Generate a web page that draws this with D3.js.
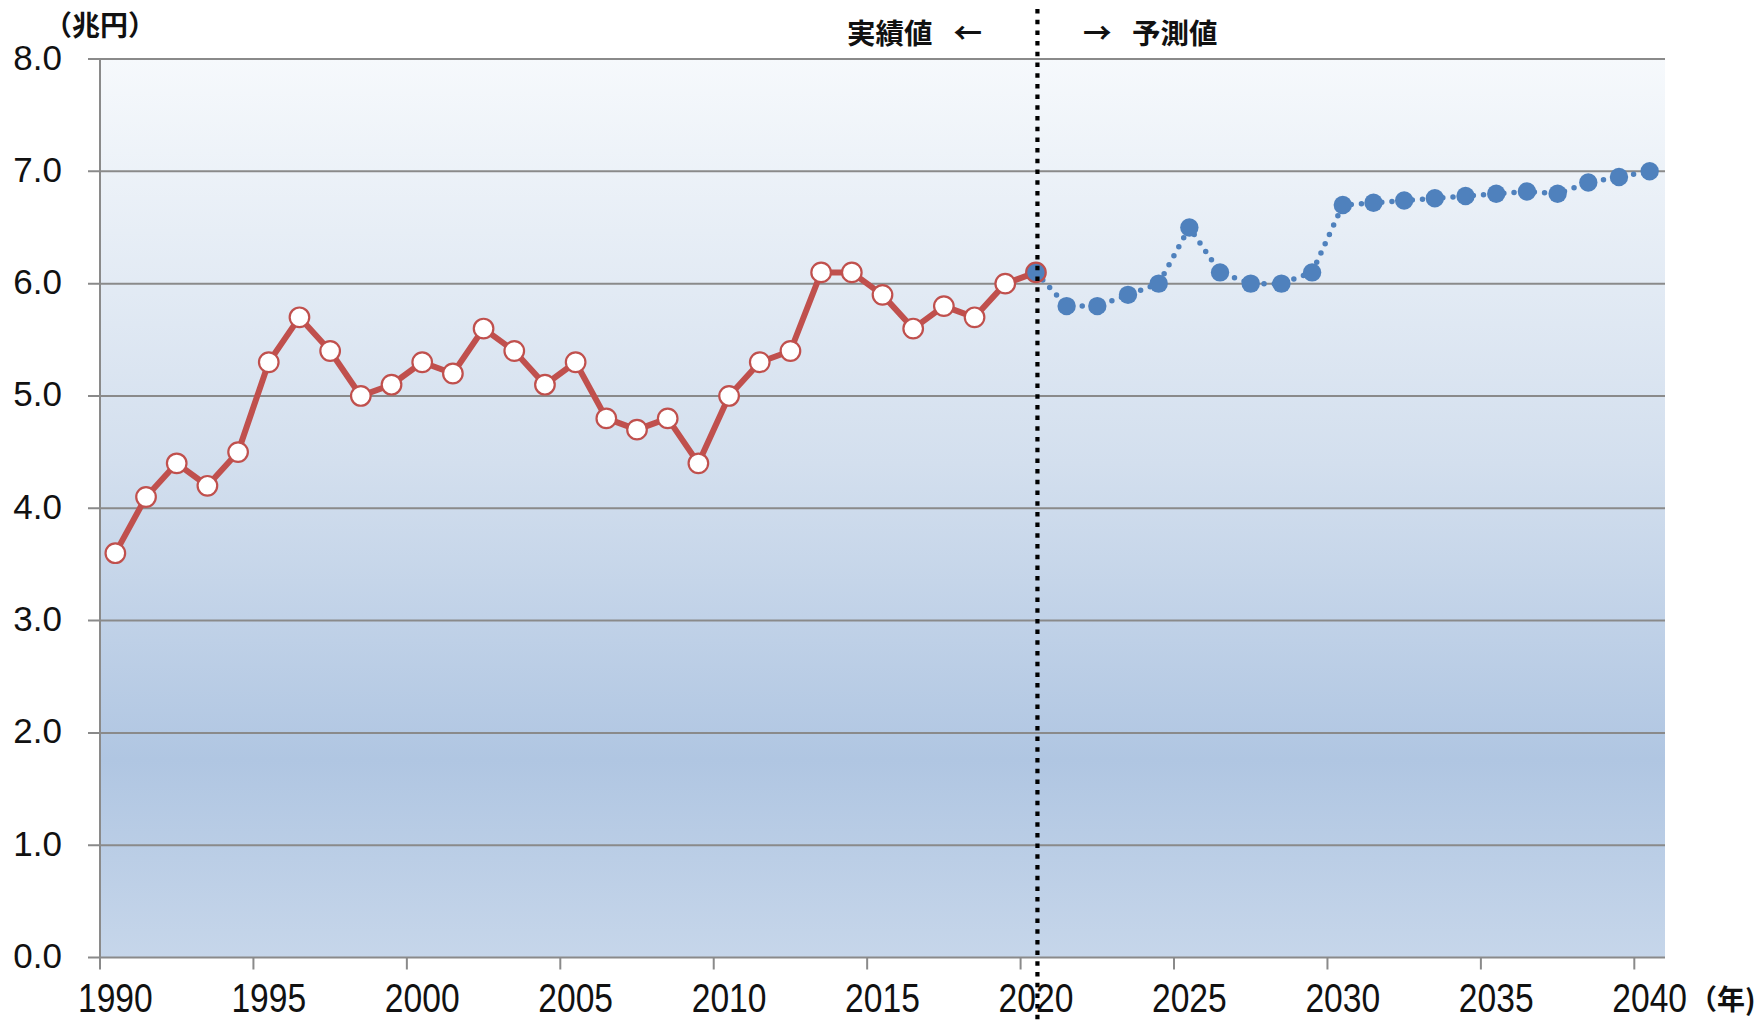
<!DOCTYPE html>
<html>
<head>
<meta charset="utf-8">
<script src="https://cdn.jsdelivr.net/npm/d3@7"></script>
<style>
  html, body { margin: 0; padding: 0; background: #fff; }
  svg { display: block; }
</style>
</head>
<body>
<svg id="svg-canvas" width="1758" height="1024"></svg>
<script>
// Years and values (trillion yen)
const actualYears = [1990, 1991, 1992, 1993, 1994, 1995, 1996, 1997, 1998, 1999,
  2000, 2001, 2002, 2003, 2004, 2005, 2006, 2007, 2008, 2009,
  2010, 2011, 2012, 2013, 2014, 2015, 2016, 2017, 2018, 2019, 2020];
const actualValues = [3.6, 4.1, 4.4, 4.2, 4.5, 5.3, 5.7, 5.4, 5.0, 5.1,
  5.3, 5.2, 5.6, 5.4, 5.1, 5.3, 4.8, 4.7, 4.8, 4.4,
  5.0, 5.3, 5.4, 6.1, 6.1, 5.9, 5.6, 5.8, 5.7, 6.0, 6.1];

const forecastYears = [2020, 2021, 2022, 2023, 2024, 2025, 2026, 2027, 2028, 2029, 2030,
  2031, 2032, 2033, 2034, 2035, 2036, 2037, 2038, 2039, 2040];
const forecastValues = [6.1, 5.8, 5.8, 5.9, 6.0, 6.5, 6.1, 6.0, 6.0, 6.1, 6.7,
  6.72, 6.74, 6.76, 6.78, 6.8, 6.82, 6.8, 6.9, 6.95, 7.0];

const xTicks = [1990, 1995, 2000, 2005, 2010, 2015, 2020, 2025, 2030, 2035, 2040];
const yTicks = [0, 1, 2, 3, 4, 5, 6, 7, 8];
const splitYear = 2020;

const actual = actualYears.map((y, i) => ({ year: y, value: actualValues[i] }));
const forecast = forecastYears.map((y, i) => ({ year: y, value: forecastValues[i] }));

const svg = d3.select('#svg-canvas');

const plotLeft = 100, plotRight = 1665, plotTop = 59, plotBottom = 957.5;

// category axis: each year sits in the middle of its slot
const x = d3.scaleLinear().domain([1990, 2041]).range([plotLeft, plotRight]);
const y = d3.scaleLinear().domain([0, 8]).range([plotBottom, plotTop]);
const px = d => x(d.year + 0.5);
const py = d => y(d.value);

const red = '#c0504d';
const blue = '#4f81bd';
const grid = '#8a8a8a';
const numFont = '"Liberation Sans", Arial, sans-serif';
const jpFont = '"Noto Sans CJK JP", "Noto Sans", sans-serif';

// Background gradient
const defs = svg.append('defs');
const grad = defs.append('linearGradient')
  .attr('id', 'bg')
  .attr('x1', 0).attr('y1', 0)
  .attr('x2', 0).attr('y2', 1);
grad.append('stop').attr('offset', '0%').attr('stop-color', '#f6f9fc');
grad.append('stop').attr('offset', '45%').attr('stop-color', '#d3dfee');
grad.append('stop').attr('offset', '78%').attr('stop-color', '#b0c6e2');
grad.append('stop').attr('offset', '100%').attr('stop-color', '#c6d6ea');

svg.append('rect')
  .attr('x', plotLeft)
  .attr('y', plotTop)
  .attr('width', plotRight - plotLeft)
  .attr('height', plotBottom - plotTop)
  .attr('fill', 'url(#bg)');

// Gridlines + y tick marks
svg.selectAll('line.grid')
  .data(yTicks)
  .enter()
  .append('line')
  .attr('class', 'grid')
  .attr('x1', plotLeft - 12)
  .attr('x2', plotRight)
  .attr('y1', d => y(d))
  .attr('y2', d => y(d))
  .attr('stroke', grid)
  .attr('stroke-width', 2);

// Left axis
svg.append('line')
  .attr('x1', plotLeft).attr('x2', plotLeft)
  .attr('y1', plotTop).attr('y2', plotBottom)
  .attr('stroke', grid)
  .attr('stroke-width', 2);

// x tick marks
svg.selectAll('line.xtick')
  .data(xTicks)
  .enter()
  .append('line')
  .attr('class', 'xtick')
  .attr('x1', d => x(d))
  .attr('x2', d => x(d))
  .attr('y1', plotBottom)
  .attr('y2', plotBottom + 12)
  .attr('stroke', grid)
  .attr('stroke-width', 2);

// y labels
svg.selectAll('text.ylab')
  .data(yTicks)
  .enter()
  .append('text')
  .attr('class', 'ylab')
  .attr('x', 62)
  .attr('y', d => y(d))
  .attr('dy', '0.3em')
  .attr('text-anchor', 'end')
  .attr('font-family', numFont)
  .attr('font-size', 35)
  .attr('fill', '#111')
  .text(d => d.toFixed(1));

// x labels (narrow digits, centred in the year slot)
svg.selectAll('text.xlab')
  .data(xTicks)
  .enter()
  .append('text')
  .attr('class', 'xlab')
  .attr('transform', d => `translate(${x(d + 0.5)},1012) scale(0.82,1)`)
  .attr('text-anchor', 'middle')
  .attr('font-family', numFont)
  .attr('font-size', 41)
  .attr('fill', '#111')
  .text(d => d);

// Actual series
const line = d3.line().x(px).y(py);

svg.append('path')
  .datum(actual)
  .attr('d', line)
  .attr('fill', 'none')
  .attr('stroke', red)
  .attr('stroke-width', 6)
  .attr('stroke-linejoin', 'round');

svg.selectAll('circle.actual')
  .data(actual.filter(d => d.year !== splitYear))
  .enter()
  .append('circle')
  .attr('class', 'actual')
  .attr('cx', px)
  .attr('cy', py)
  .attr('r', 9.8)
  .attr('fill', '#fff')
  .attr('stroke', red)
  .attr('stroke-width', 2.2);

// Forecast series (dotted)
svg.append('path')
  .datum(forecast)
  .attr('d', line)
  .attr('fill', 'none')
  .attr('stroke', blue)
  .attr('stroke-width', 5.5)
  .attr('stroke-linecap', 'round')
  .attr('stroke-dasharray', '0,10.2');

svg.selectAll('circle.forecast')
  .data(forecast)
  .enter()
  .append('circle')
  .attr('class', 'forecast')
  .attr('cx', px)
  .attr('cy', py)
  .attr('r', d => d.year === splitYear ? 9.8 : 9.2)
  .attr('fill', blue)
  .attr('stroke', d => d.year === splitYear ? red : 'none')
  .attr('stroke-width', 2.2);

// Split line
svg.append('line')
  .attr('x1', x(splitYear + 0.5) + 1.5)
  .attr('x2', x(splitYear + 0.5) + 1.5)
  .attr('y1', 9)
  .attr('y2', 1024)
  .attr('stroke', '#000')
  .attr('stroke-width', 4.2)
  .attr('stroke-dasharray', '4.5,6.2');

// Titles
svg.append('text')
  .attr('x', 100).attr('y', 26)
  .attr('dy', '0.35em')
  .attr('text-anchor', 'middle')
  .attr('font-family', jpFont)
  .attr('font-weight', 'bold')
  .attr('font-size', 28)
  .attr('fill', '#111')
  .text('（兆円）');

svg.append('text')
  .attr('x', 1689).attr('y', 1000)
  .attr('dy', '0.35em')
  .attr('text-anchor', 'start')
  .attr('font-family', jpFont)
  .attr('font-weight', 'bold')
  .attr('font-size', 28)
  .attr('fill', '#111')
  .text('（年)');

const notes = [
  { text: '実績値', x: 847, anchor: 'start' },
  { text: '←', x: 982, anchor: 'end' },
  { text: '→', x: 1083, anchor: 'start' },
  { text: '予測値', x: 1132, anchor: 'start' }
];

svg.selectAll('text.note')
  .data(notes)
  .enter()
  .append('text')
  .attr('class', 'note')
  .attr('x', d => d.x)
  .attr('y', 34)
  .attr('dy', '0.35em')
  .attr('text-anchor', d => d.anchor)
  .attr('font-family', jpFont)
  .attr('font-weight', 'bold')
  .attr('font-size', 28.5)
  .attr('fill', '#111')
  .text(d => d.text);
</script>
</body>
</html>
